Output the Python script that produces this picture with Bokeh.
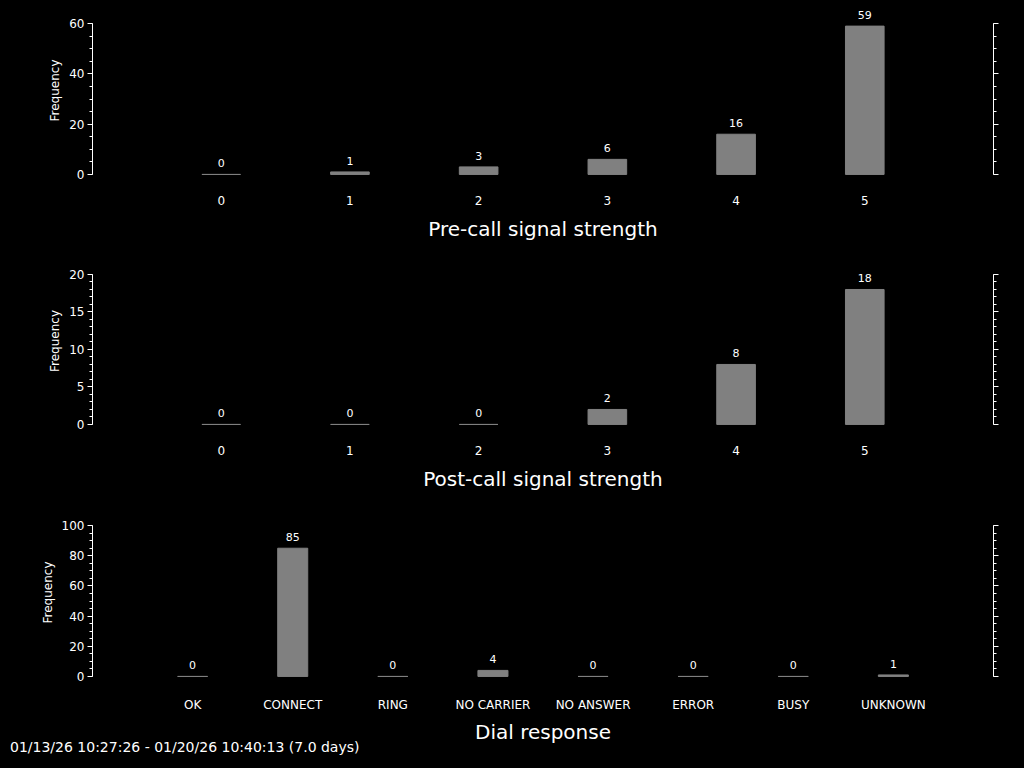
from bokeh.plotting import figure
from bokeh.models import (Range1d, FactorRange, LinearAxis, SingleIntervalTicker,
                          ColumnDataSource, Div)
from bokeh.layouts import column
from bokeh.embed import file_html
from bokeh.resources import INLINE
from bokeh.core.properties import value

# ---------------- data ----------------
pre_levels = ["0", "1", "2", "3", "4", "5"]
pre_counts = [0, 1, 3, 6, 16, 59]
post_levels = ["0", "1", "2", "3", "4", "5"]
post_counts = [0, 0, 0, 2, 8, 18]
dial_responses = ["OK", "CONNECT", "RING", "NO CARRIER", "NO ANSWER", "ERROR", "BUSY", "UNKNOWN"]
dial_counts = [0, 85, 0, 4, 0, 0, 0, 1]
titles = ["Pre-call signal strength", "Post-call signal strength", "Dial response"]
y_max = [60, 20, 100]
y_step = [20, 5, 20]
footer = "01/13/26 10:27:26 - 01/20/26 10:40:13 (7.0 days)"

FONT = "DejaVu Sans"
BAR = "#808080"
HEAD = 0.12   # extra room above the axis top for value labels
PAD = 0.007


def style_axis(ax, ticker, ymax, show_labels=True):
    ax.ticker = ticker
    ax.bounds = (0, ymax)
    ax.axis_line_color = "white"
    ax.major_tick_line_color = "white"
    ax.minor_tick_line_color = "white"
    ax.major_tick_in = 0
    ax.major_tick_out = 5
    ax.minor_tick_in = 0
    ax.minor_tick_out = 3
    ax.major_label_text_color = "white" if show_labels else None
    ax.major_label_text_font = FONT
    ax.major_label_text_font_size = "12px"
    ax.major_label_standoff = 3


def make_panel(cats, counts, title, ymax, step, nminor, axis_px, tick_top, fig_h, title_standoff):
    frame_h = round(axis_px * (1 + HEAD + PAD))
    top_border = tick_top - round(axis_px * HEAD)
    p = figure(x_range=FactorRange(factors=cats, range_padding=1.0 / len(cats)),
               y_range=Range1d(-ymax * PAD, ymax * (1 + HEAD)),
               frame_width=901, frame_height=frame_h,
               min_border_left=92, min_border_right=31,
               min_border_top=top_border, min_border_bottom=fig_h - top_border - frame_h,
               output_backend="svg", toolbar_location=None,
               background_fill_color="black", border_fill_color="black")
    p.outline_line_color = None
    p.xgrid.grid_line_color = None
    p.ygrid.grid_line_color = None

    src = ColumnDataSource(dict(cat=cats, count=counts, label=[str(c) for c in counts]))
    p.vbar(x="cat", top="count", bottom=0, width=0.3, source=src,
           fill_color=BAR, line_color=BAR, line_width=1)
    p.text(x="cat", y="count", text="label", source=src,
           text_color="white", text_font=value(FONT), text_font_size="11px",
           text_align="center", text_baseline="bottom", y_offset=-7)

    ticker = SingleIntervalTicker(interval=step, num_minor_ticks=nminor)
    yax = p.yaxis[0]
    style_axis(yax, ticker, ymax)
    yax.axis_label = "Frequency"
    yax.axis_label_text_color = "white"
    yax.axis_label_text_font = FONT
    yax.axis_label_text_font_size = "12px"
    yax.axis_label_text_font_style = "normal"
    yax.axis_label_standoff = 4

    rax = LinearAxis()
    style_axis(rax, SingleIntervalTicker(interval=step, num_minor_ticks=nminor), ymax, show_labels=False)
    p.add_layout(rax, "right")

    xax = p.xaxis[0]
    xax.axis_line_color = None
    xax.major_tick_line_color = None
    xax.minor_tick_line_color = None
    xax.major_tick_out = 0
    xax.major_tick_in = 0
    xax.major_label_text_color = "white"
    xax.major_label_text_font = FONT
    xax.major_label_text_font_size = "12px"
    xax.major_label_standoff = 20
    xax.axis_label = title
    xax.axis_label_text_color = "white"
    xax.axis_label_text_font = FONT
    xax.axis_label_text_font_size = "20px"
    xax.axis_label_text_font_style = "normal"
    xax.axis_label_standoff = title_standoff
    return p


p1 = make_panel(pre_levels, pre_counts, titles[0], y_max[0], y_step[0], 4, 151, 23, 255, 9)
p2 = make_panel(post_levels, post_counts, titles[1], y_max[1], y_step[1], 5, 150, 19, 250, 9)
p3 = make_panel(dial_responses, dial_counts, titles[2], y_max[2], y_step[2], 4, 151, 20, 235, 5)

foot = Div(text='<div style="position:relative; top:-6px; white-space:nowrap;">' + footer + '</div>',
           width=1000, height=28, margin=(0, 0, 0, 10),
           styles={"color": "white", "font-family": FONT, "font-size": "14px",
                   "line-height": "14px", "background-color": "black"})

layout = column(p1, p2, p3, foot, spacing=0, styles={"background-color": "black"})

html = file_html(layout, INLINE, title="Modem statistics")
html = html.replace("</head>", "<style>html,body{background:#000;}</style></head>", 1)
open("out.html", "w").write(html)
